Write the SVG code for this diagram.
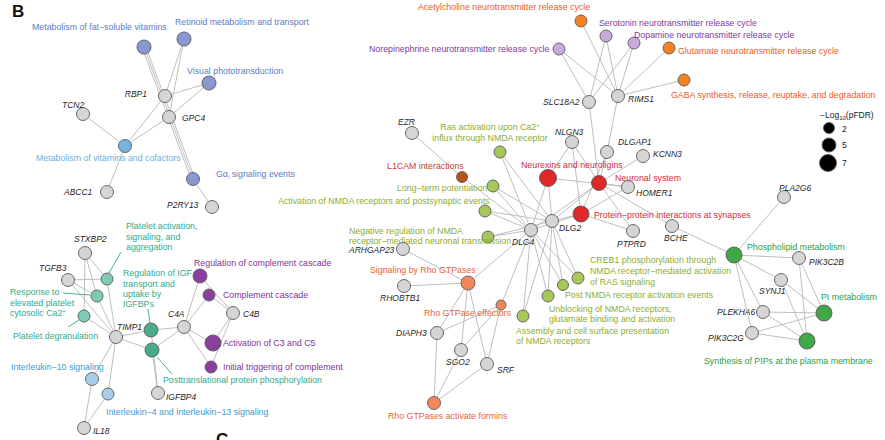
<svg xmlns="http://www.w3.org/2000/svg" width="885" height="440" viewBox="0 0 885 440">
<style>
.bg{fill:#fff}
.e line{stroke:#b8b8b8;stroke-width:0.9}
.ld{stroke-width:0.8}
circle{stroke:#5a5a5a;stroke-width:0.9}
.gn{fill:#d5d5d5}
.gl{font-family:"Liberation Sans",Arial,sans-serif;font-style:italic;font-size:8.5px;fill:#262626}
.pl{font-family:"Liberation Sans",Arial,sans-serif;font-size:8.8px}
.peri{fill:#8798d2}.t-peri{fill:#5b7dc4}
.ltb{fill:#78b2df}.t-ltb{fill:#6ab0da}
.lpu{fill:#c8abdc}.t-lpu{fill:#7a3d9e}
.ora{fill:#f28121}.t-ora{fill:#ea5a2a}
.red{fill:#e02626}.t-red{fill:#d42a3c}
.lim{fill:#a6c85a}.t-lim{fill:#8dac30}
.brn{fill:#b5531c}.t-brn{fill:#c2452c}
.sal{fill:#f3875a}.t-sal{fill:#ea6238}
.grn{fill:#3fa847}.t-grn{fill:#2c9d4a}
.ltl{fill:#80cbb8}.t-tl{fill:#2eab8c}
.tea{fill:#48ab8c}
.pur{fill:#8a3f9e}.t-pur{fill:#7b3694}
.ilb{fill:#a9cde8}.t-ilb{fill:#3a9bd2}
.hd{font-family:"Liberation Sans",Arial,sans-serif;font-weight:bold;font-size:17px;fill:#111}
.lg{font-family:"Liberation Sans",Arial,sans-serif;font-size:8.5px;fill:#222}
</style>
<rect class="bg" x="0" y="0" width="885" height="440"/>
<text class="hd" x="12" y="17">B</text>
<text class="hd" x="216" y="445">C</text>

<g id="edges" class="e">
<line x1="165" y1="96" x2="184" y2="39"/>
<line x1="169" y1="117" x2="184" y2="39"/>
<line x1="165" y1="96" x2="209" y2="83"/>
<line x1="169" y1="117" x2="209" y2="83"/>
<line x1="165" y1="96" x2="125" y2="146"/>
<line x1="169" y1="117" x2="125" y2="146"/>
<line x1="83" y1="114" x2="125" y2="146"/>
<line x1="107" y1="192" x2="125" y2="146"/>
<line x1="144" y1="47" x2="193" y2="179"/>
<line x1="146" y1="47" x2="195" y2="179"/>
<line x1="142" y1="47" x2="191" y2="179"/>
<line x1="193" y1="179" x2="212" y2="207"/>
<line x1="589" y1="102" x2="559" y2="49"/>
<line x1="589" y1="102" x2="606" y2="36"/>
<line x1="589" y1="102" x2="634" y2="43"/>
<line x1="618" y1="96" x2="581" y2="21"/>
<line x1="618" y1="96" x2="559" y2="49"/>
<line x1="618" y1="96" x2="606" y2="36"/>
<line x1="618" y1="96" x2="634" y2="43"/>
<line x1="618" y1="96" x2="669" y2="48"/>
<line x1="618" y1="96" x2="684" y2="80"/>
<line x1="589" y1="102" x2="599" y2="183"/>
<line x1="618" y1="96" x2="607" y2="152"/>
<line x1="412" y1="133" x2="462" y2="177"/>
<line x1="462" y1="177" x2="531" y2="230"/>
<line x1="500" y1="152" x2="531" y2="230"/>
<line x1="500" y1="152" x2="552" y2="221"/>
<line x1="493" y1="186" x2="531" y2="230"/>
<line x1="493" y1="186" x2="552" y2="221"/>
<line x1="485" y1="211" x2="531" y2="230"/>
<line x1="485" y1="211" x2="552" y2="221"/>
<line x1="488" y1="237" x2="531" y2="230"/>
<line x1="488" y1="237" x2="552" y2="221"/>
<line x1="548" y1="178" x2="531" y2="230"/>
<line x1="548" y1="178" x2="552" y2="221"/>
<line x1="548" y1="178" x2="572" y2="142"/>
<line x1="548" y1="178" x2="628" y2="187"/>
<line x1="572" y1="142" x2="599" y2="183"/>
<line x1="572" y1="142" x2="581" y2="214"/>
<line x1="607" y1="152" x2="599" y2="183"/>
<line x1="607" y1="152" x2="581" y2="214"/>
<line x1="643" y1="156" x2="599" y2="183"/>
<line x1="628" y1="187" x2="599" y2="183"/>
<line x1="628" y1="187" x2="581" y2="214"/>
<line x1="633" y1="231" x2="581" y2="214"/>
<line x1="633" y1="231" x2="599" y2="183"/>
<line x1="552" y1="221" x2="599" y2="183"/>
<line x1="552" y1="221" x2="581" y2="214"/>
<line x1="531" y1="230" x2="599" y2="183"/>
<line x1="531" y1="230" x2="581" y2="214"/>
<line x1="599" y1="183" x2="672" y2="226"/>
<line x1="672" y1="226" x2="734" y2="255"/>
<line x1="578" y1="278" x2="531" y2="230"/>
<line x1="578" y1="278" x2="552" y2="221"/>
<line x1="563" y1="285" x2="531" y2="230"/>
<line x1="563" y1="285" x2="552" y2="221"/>
<line x1="548" y1="296" x2="531" y2="230"/>
<line x1="548" y1="296" x2="552" y2="221"/>
<line x1="523" y1="316" x2="531" y2="230"/>
<line x1="523" y1="316" x2="552" y2="221"/>
<line x1="531" y1="230" x2="468" y2="283"/>
<line x1="531" y1="230" x2="501" y2="305"/>
<line x1="403" y1="249" x2="468" y2="283"/>
<line x1="404" y1="286" x2="468" y2="283"/>
<line x1="468" y1="283" x2="437" y2="333"/>
<line x1="468" y1="283" x2="461" y2="350"/>
<line x1="468" y1="283" x2="487" y2="364"/>
<line x1="501" y1="305" x2="437" y2="333"/>
<line x1="501" y1="305" x2="461" y2="350"/>
<line x1="501" y1="305" x2="487" y2="364"/>
<line x1="434" y1="403" x2="437" y2="333"/>
<line x1="434" y1="403" x2="461" y2="350"/>
<line x1="434" y1="403" x2="487" y2="364"/>
<line x1="734" y1="255" x2="784" y2="197"/>
<line x1="734" y1="255" x2="799" y2="258"/>
<line x1="734" y1="255" x2="781" y2="280"/>
<line x1="734" y1="255" x2="763" y2="312"/>
<line x1="734" y1="255" x2="752" y2="333"/>
<line x1="824" y1="313" x2="799" y2="258"/>
<line x1="824" y1="313" x2="781" y2="280"/>
<line x1="824" y1="313" x2="763" y2="312"/>
<line x1="824" y1="313" x2="752" y2="333"/>
<line x1="807" y1="341" x2="799" y2="258"/>
<line x1="807" y1="341" x2="781" y2="280"/>
<line x1="807" y1="341" x2="763" y2="312"/>
<line x1="807" y1="341" x2="752" y2="333"/>
<line x1="85" y1="253" x2="107" y2="279"/>
<line x1="85" y1="253" x2="97" y2="296"/>
<line x1="85" y1="253" x2="84" y2="316"/>
<line x1="68" y1="280" x2="107" y2="279"/>
<line x1="68" y1="280" x2="97" y2="296"/>
<line x1="68" y1="280" x2="116" y2="337"/>
<line x1="116" y1="337" x2="107" y2="279"/>
<line x1="116" y1="337" x2="97" y2="296"/>
<line x1="116" y1="337" x2="84" y2="316"/>
<line x1="116" y1="337" x2="151" y2="330"/>
<line x1="116" y1="337" x2="152" y2="350"/>
<line x1="116" y1="337" x2="92" y2="379"/>
<line x1="116" y1="337" x2="108" y2="394"/>
<line x1="184" y1="327" x2="151" y2="330"/>
<line x1="184" y1="327" x2="152" y2="350"/>
<line x1="184" y1="327" x2="200" y2="276"/>
<line x1="184" y1="327" x2="209" y2="295"/>
<line x1="184" y1="327" x2="213" y2="343"/>
<line x1="184" y1="327" x2="211" y2="367"/>
<line x1="233" y1="313" x2="200" y2="276"/>
<line x1="233" y1="313" x2="209" y2="295"/>
<line x1="233" y1="313" x2="213" y2="343"/>
<line x1="233" y1="313" x2="211" y2="367"/>
<line x1="158" y1="393" x2="151" y2="330"/>
<line x1="158" y1="393" x2="152" y2="350"/>
<line x1="84" y1="428" x2="92" y2="379"/>
<line x1="84" y1="428" x2="108" y2="394"/>
<line class="ld" x1="121" y1="252" x2="109" y2="273" style="stroke:#2eab8c"/>
<line class="ld" x1="63" y1="293" x2="90" y2="295" style="stroke:#2eab8c"/>
<line class="ld" x1="68" y1="327" x2="79" y2="320" style="stroke:#2eab8c"/>
<line class="ld" x1="148" y1="309" x2="150" y2="323" style="stroke:#2eab8c"/>
<line class="ld" x1="157" y1="357" x2="172" y2="374" style="stroke:#2eab8c"/>
</g>

<g id="n-fatsol"><circle class="peri" cx="144" cy="47" r="7"/><text class="pl t-peri" x="32" y="30">Metabolism of fat−soluble vitamins</text></g>
<g id="n-retinoid"><circle class="peri" cx="184" cy="39" r="7"/><text class="pl t-peri" x="175" y="25">Retinoid metabolism and transport</text></g>
<g id="n-visual"><circle class="peri" cx="209" cy="83" r="7"/><text class="pl t-peri" x="187" y="74">Visual phototransduction</text></g>
<g id="n-vitcof"><circle class="ltb" cx="125" cy="146" r="6.5"/><text class="pl t-ltb" x="36" y="161">Metabolism of vitamins and cofactors</text></g>
<g id="n-gai"><circle class="peri" cx="193" cy="179" r="6.5"/><text class="pl t-peri" x="216" y="177">Gα<tspan font-size="6" dy="2">i</tspan><tspan dy="-2"> signaling events</tspan></text></g>
<g id="n-RBP1"><circle class="gn" cx="165" cy="96" r="6.5"/><text class="gl" x="147" y="97" text-anchor="end">RBP1</text></g>
<g id="n-GPC4"><circle class="gn" cx="169" cy="117" r="6.5"/><text class="gl" x="182" y="121">GPC4</text></g>
<g id="n-TCN2"><circle class="gn" cx="83" cy="114" r="6.5"/><text class="gl" x="62" y="108">TCN2</text></g>
<g id="n-ABCC1"><circle class="gn" cx="107" cy="192" r="6.5"/><text class="gl" x="64" y="195">ABCC1</text></g>
<g id="n-P2RY13"><circle class="gn" cx="212" cy="207" r="6.5"/><text class="gl" x="167" y="208">P2RY13</text></g>

<g id="n-ach"><circle class="ora" cx="581" cy="21" r="6"/><text class="pl t-ora" x="418" y="10">Acetylcholine neurotransmitter release cycle</text></g>
<g id="n-norepi"><circle class="lpu" cx="559" cy="49" r="6"/><text class="pl t-lpu" x="369" y="52">Norepinephrine neurotransmitter release cycle</text></g>
<g id="n-sero"><circle class="lpu" cx="606" cy="36" r="6"/><text class="pl t-lpu" x="599" y="26">Serotonin neurotransmitter release cycle</text></g>
<g id="n-dopa"><circle class="lpu" cx="634" cy="43" r="6"/><text class="pl t-lpu" x="634" y="38">Dopamine neurotransmitter release cycle</text></g>
<g id="n-glut"><circle class="ora" cx="669" cy="48" r="6"/><text class="pl t-ora" x="678" y="54">Glutamate neurotransmitter release cycle</text></g>
<g id="n-gaba"><circle class="ora" cx="684" cy="80" r="6"/><text class="pl t-ora" x="671" y="98">GABA synthesis, release, reuptake, and degradation</text></g>
<g id="n-SLC18A2"><circle class="gn" cx="589" cy="102" r="6.5"/><text class="gl" x="543" y="105">SLC18A2</text></g>
<g id="n-RIMS1"><circle class="gn" cx="618" cy="96" r="6.5"/><text class="gl" x="628" y="102">RIMS1</text></g>

<g id="legend">
<text class="lg" x="820" y="118">−Log<tspan font-size="6" dy="2">10</tspan><tspan dy="-2">(pFDR)</tspan></text>
<circle cx="829" cy="128" r="5.5" fill="#000" stroke="none"/><text class="lg" x="842" y="132">2</text>
<circle cx="829" cy="145" r="7" fill="#000" stroke="none"/><text class="lg" x="842" y="148">5</text>
<circle cx="828" cy="163" r="8.5" fill="#000" stroke="none"/><text class="lg" x="842" y="166">7</text>
</g>

<g id="n-EZR"><circle class="gn" cx="412" cy="133" r="6.5"/><text class="gl" x="398" y="125">EZR</text></g>
<g id="n-ras"><circle class="lim" cx="500" cy="152" r="6"/><text class="pl t-lim" x="490" y="130" text-anchor="middle">Ras activation upon Ca2<tspan font-size="6" dy="-3">+</tspan></text><text class="pl t-lim" x="490" y="141" text-anchor="middle">influx through NMDA receptor</text></g>
<g id="n-NLGN3"><circle class="gn" cx="572" cy="142" r="6.5"/><text class="gl" x="555" y="135">NLGN3</text></g>
<g id="n-DLGAP1"><circle class="gn" cx="607" cy="152" r="6.5"/><text class="gl" x="618" y="145">DLGAP1</text></g>
<g id="n-KCNN3"><circle class="gn" cx="643" cy="156" r="6.5"/><text class="gl" x="653" y="157">KCNN3</text></g>
<g id="n-l1cam"><circle class="brn" cx="462" cy="177" r="5.5"/><text class="pl t-brn" x="387" y="169">L1CAM interactions</text></g>
<g id="n-neurex"><circle class="red" cx="548" cy="178" r="8.5"/><text class="pl t-red" x="521" y="168">Neurexins and neuroligins</text></g>
<g id="n-neuronal"><circle class="red" cx="599" cy="183" r="7.5"/><text class="pl t-red" x="615" y="181">Neuronal system</text></g>
<g id="n-ltp"><circle class="lim" cx="493" cy="186" r="6"/><text class="pl t-lim" x="397" y="191">Long−term potentiation</text></g>
<g id="n-HOMER1"><circle class="gn" cx="628" cy="187" r="6.5"/><text class="gl" x="636" y="196">HOMER1</text></g>
<g id="n-actnmda"><circle class="lim" cx="485" cy="211" r="6"/><text class="pl t-lim" x="278" y="204">Activation of NMDA receptors and postsynaptic events</text></g>
<g id="n-ppi"><circle class="red" cx="581" cy="214" r="8"/><text class="pl t-red" x="594" y="218">Protein−protein interactions at synapses</text></g>
<g id="n-DLG2"><circle class="gn" cx="552" cy="221" r="6.5"/><text class="gl" x="559" y="231">DLG2</text></g>
<g id="n-negreg"><circle class="lim" cx="488" cy="237" r="6"/><text class="pl t-lim" x="349" y="234">Negative regulation of NMDA</text><text class="pl t-lim" x="349" y="244">receptor−mediated neuronal transmission</text></g>
<g id="n-DLG4"><circle class="gn" cx="531" cy="230" r="6.5"/><text class="gl" x="512" y="245">DLG4</text></g>
<g id="n-BCHE"><circle class="gn" cx="672" cy="226" r="6.5"/><text class="gl" x="664" y="241">BCHE</text></g>
<g id="n-PTPRD"><circle class="gn" cx="633" cy="231" r="6.5"/><text class="gl" x="617" y="247">PTPRD</text></g>
<g id="n-ARHGAP23"><circle class="gn" cx="403" cy="249" r="6.5"/><text class="gl" x="349" y="253">ARHGAP23</text></g>
<g id="n-PLA2G6"><circle class="gn" cx="784" cy="197" r="6.5"/><text class="gl" x="779" y="191">PLA2G6</text></g>
<g id="n-phospho"><circle class="grn" cx="734" cy="255" r="8"/><text class="pl t-grn" x="747" y="250">Phospholipid metabolism</text></g>
<g id="n-PIK3C2B"><circle class="gn" cx="799" cy="258" r="6.5"/><text class="gl" x="809" y="265">PIK3C2B</text></g>
<g id="n-creb"><circle class="lim" cx="578" cy="278" r="6"/><text class="pl t-lim" x="590" y="263">CREB1 phosphorylation through</text><text class="pl t-lim" x="590" y="274">NMDA receptor−mediated activation</text><text class="pl t-lim" x="590" y="285">of RAS signaling</text></g>
<g id="n-rhosig"><circle class="sal" cx="468" cy="283" r="7"/><text class="pl t-sal" x="370" y="273">Signaling by Rho GTPases</text></g>
<g id="n-SYNJ1"><circle class="gn" cx="781" cy="280" r="6.5"/><text class="gl" x="759" y="294">SYNJ1</text></g>
<g id="n-postnmda"><circle class="lim" cx="563" cy="285" r="5.5"/><text class="pl t-lim" x="565" y="298">Post NMDA receptor activation events</text></g>
<g id="n-pimet"><circle class="grn" cx="824" cy="313" r="8"/><text class="pl t-grn" x="821" y="300">PI metabolism</text></g>
<g id="n-RHOBTB1"><circle class="gn" cx="404" cy="286" r="6.5"/><text class="gl" x="380" y="301">RHOBTB1</text></g>
<g id="n-unblock"><circle class="lim" cx="548" cy="296" r="6"/><text class="pl t-lim" x="549" y="312">Unblocking of NMDA receptors,</text><text class="pl t-lim" x="549" y="322">glutamate binding and activation</text></g>
<g id="n-PLEKHA6"><circle class="gn" cx="763" cy="312" r="6.5"/><text class="gl" x="717" y="315">PLEKHA6</text></g>
<g id="n-rhoeff"><circle class="sal" cx="501" cy="305" r="5"/><text class="pl t-sal" x="424" y="316">Rho GTPase effectors</text></g>
<g id="n-assembly"><circle class="lim" cx="523" cy="316" r="6"/><text class="pl t-lim" x="516" y="334">Assembly and cell surface presentation</text><text class="pl t-lim" x="516" y="344">of NMDA receptors</text></g>
<g id="n-DIAPH3"><circle class="gn" cx="437" cy="333" r="6.5"/><text class="gl" x="396" y="336">DIAPH3</text></g>
<g id="n-PIK3C2G"><circle class="gn" cx="752" cy="333" r="6.5"/><text class="gl" x="708" y="341">PIK3C2G</text></g>
<g id="n-SGO2"><circle class="gn" cx="461" cy="350" r="6.5"/><text class="gl" x="446" y="365">SGO2</text></g>
<g id="n-pips"><circle class="grn" cx="807" cy="341" r="8"/><text class="pl t-grn" x="704" y="364">Synthesis of PIPs at the plasma membrane</text></g>
<g id="n-SRF"><circle class="gn" cx="487" cy="364" r="6.5"/><text class="gl" x="497" y="373">SRF</text></g>
<g id="n-formins"><circle class="sal" cx="434" cy="403" r="6.5"/><text class="pl t-sal" x="388" y="419">Rho GTPases activate formins</text></g>

<g id="n-platact"><circle class="ltl" cx="107" cy="279" r="6"/><text class="pl t-tl" x="126" y="229">Platelet activation,</text><text class="pl t-tl" x="126" y="240">signaling, and</text><text class="pl t-tl" x="126" y="250">aggregation</text></g>
<g id="n-STXBP2"><circle class="gn" cx="85" cy="253" r="6.5"/><text class="gl" x="74" y="242">STXBP2</text></g>
<g id="n-regcomp"><circle class="pur" cx="200" cy="276" r="7"/><text class="pl t-pur" x="194" y="266">Regulation of complement cascade</text></g>
<g id="n-TGFB3"><circle class="gn" cx="68" cy="280" r="6.5"/><text class="gl" x="39" y="271">TGFB3</text></g>
<g id="n-regigf"><circle class="tea" cx="151" cy="330" r="7"/><text class="pl t-tl" x="123" y="276">Regulation of IGF</text><text class="pl t-tl" x="123" y="287">transport and</text><text class="pl t-tl" x="123" y="297">uptake by</text><text class="pl t-tl" x="123" y="307">IGFBPs</text></g>
<g id="n-response"><circle class="ltl" cx="97" cy="296" r="6"/><text class="pl t-tl" x="10" y="295">Response to</text><text class="pl t-tl" x="10" y="306">elevated platelet</text><text class="pl t-tl" x="10" y="316">cytosolic Ca2<tspan font-size="6" dy="-3">+</tspan></text></g>
<g id="n-compcasc"><circle class="pur" cx="209" cy="295" r="6"/><text class="pl t-pur" x="223" y="298">Complement cascade</text></g>
<g id="n-C4A"><circle class="gn" cx="184" cy="327" r="6.5"/><text class="gl" x="168" y="317">C4A</text></g>
<g id="n-C4B"><circle class="gn" cx="233" cy="313" r="6.5"/><text class="gl" x="243" y="317">C4B</text></g>
<g id="n-TIMP1"><circle class="gn" cx="116" cy="337" r="6.5"/><text class="gl" x="117" y="330">TIMP1</text></g>
<g id="n-degran"><circle class="ltl" cx="84" cy="316" r="6"/><text class="pl t-tl" x="13" y="339">Platelet degranulation</text></g>
<g id="n-actc3"><circle class="pur" cx="213" cy="343" r="8"/><text class="pl t-pur" x="223" y="346">Activation of C3 and C5</text></g>
<g id="n-posttrans"><circle class="tea" cx="152" cy="350" r="7"/><text class="pl t-tl" x="163" y="383">Posttranslational protein phosphorylation</text></g>
<g id="n-initial"><circle class="pur" cx="211" cy="367" r="6"/><text class="pl t-pur" x="223" y="370">Initial triggering of complement</text></g>
<g id="n-il10"><circle class="ilb" cx="92" cy="379" r="6.5"/><text class="pl t-ilb" x="11" y="370">Interleukin−10 signaling</text></g>
<g id="n-IGFBP4"><circle class="gn" cx="158" cy="393" r="6.5"/><text class="gl" x="166" y="400">IGFBP4</text></g>
<g id="n-il4"><circle class="ilb" cx="108" cy="394" r="6"/><text class="pl t-ilb" x="106" y="415">Interleukin−4 and interleukin−13 signaling</text></g>
<g id="n-IL18"><circle class="gn" cx="84" cy="428" r="6.5"/><text class="gl" x="93" y="434">IL18</text></g>
</svg>
